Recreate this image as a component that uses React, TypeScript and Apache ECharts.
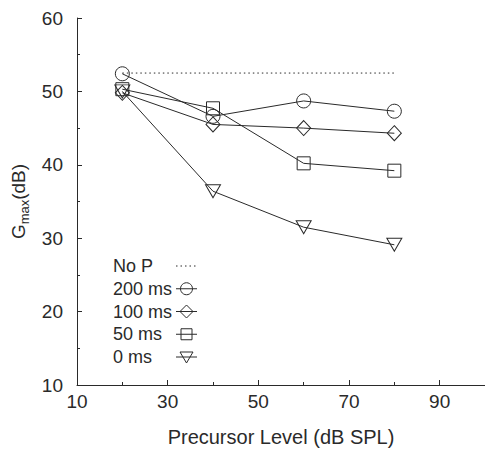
import React, { useEffect, useRef } from "react";
import * as echarts from "echarts";

const levels = [20, 40, 60, 80];
const noP = [52.5, 52.5];
const noPLevels = [20, 80];
const ms200 = [52.4, 46.6, 48.7, 47.3];
const ms100 = [49.8, 45.5, 45.0, 44.3];
const ms50 = [50.3, 47.7, 40.2, 39.2];
const ms0 = [50.0, 36.4, 31.5, 29.1];
const legendNames = ["No P", "200 ms", "100 ms", "50 ms", "0 ms"];

const FONT = "Liberation Sans, Arial, Helvetica, sans-serif";
const INK = "#2a2a2a";

export default function App() {
  const ref = useRef<HTMLDivElement>(null);
  useEffect(() => {
    if (!ref.current) return;
    const chart = echarts.init(ref.current, null, { renderer: "svg" });
    const mk = (name: string, ys: number[], symbol: string, size: any) => ({
      name,
      type: "line",
      data: levels.map((x, i) => [x, ys[i]]),
      symbol,
      symbolSize: size,
      showAllSymbol: true,
      lineStyle: { color: INK, width: 1 },
      itemStyle: { color: "rgba(0,0,0,0)", borderColor: INK, borderWidth: 1 },
      emphasis: { disabled: true },
      z: 3,
    });

    // legend drawn as graphic elements
    const lx = 113;
    const ly0 = 266;
    const dy = 22.75;
    const ix1 = 176;
    const ix2 = 197;
    const icx = 186.5;
    const stroke = { stroke: INK, lineWidth: 1, fill: "none" };
    const legend: any[] = [];
    legendNames.forEach((nm, i) => {
      const y = ly0 + i * dy;
      legend.push({
        type: "text",
        x: lx,
        y,
        style: { text: nm, fontSize: 18, fontFamily: FONT, fill: INK, verticalAlign: "middle", align: "left" },
      });
      legend.push({
        type: "line",
        shape: { x1: ix1, y1: y, x2: ix2, y2: y },
        style: i === 0 ? { stroke: INK, lineWidth: 1, lineDash: [1.5, 3] } : { stroke: INK, lineWidth: 1 },
      });
      if (i === 1) legend.push({ type: "circle", shape: { cx: icx, cy: y, r: 6 }, style: stroke });
      if (i === 2)
        legend.push({
          type: "polygon",
          shape: { points: [[icx, y - 6.5], [icx + 6.5, y], [icx, y + 6.5], [icx - 6.5, y]] },
          style: stroke,
        });
      if (i === 3) legend.push({ type: "rect", shape: { x: icx - 5.5, y: y - 5.5, width: 11, height: 11 }, style: stroke });
      if (i === 4)
        legend.push({
          type: "polygon",
          shape: { points: [[icx - 6.5, y - 5], [icx + 6.5, y - 5], [icx, y + 6]] },
          style: stroke,
        });
    });

    chart.setOption({
      animation: false,
      backgroundColor: "#fff",
      textStyle: { fontFamily: FONT },
      grid: { left: 77, top: 18, bottom: 64, right: -5, containLabel: false },
      graphic: legend,
      xAxis: {
        type: "value",
        min: 10,
        max: 100,
        interval: 20,
        name: "Precursor Level (dB SPL)",
        nameLocation: "middle",
        nameGap: 42,
        nameTextStyle: { fontSize: 20, color: INK, fontFamily: FONT },
        axisLine: { lineStyle: { color: INK, width: 1 } },
        axisTick: { inside: true, length: 5, lineStyle: { color: INK } },
        minorTick: { show: true, splitNumber: 2, length: 3, lineStyle: { color: INK } },
        axisLabel: { fontSize: 19, color: INK, margin: 7, showMaxLabel: false, fontFamily: FONT },
        splitLine: { show: false },
      },
      yAxis: {
        type: "value",
        min: 10,
        max: 60,
        interval: 10,
        name: "{a|G}{b|max}{a|(dB)}",
        nameLocation: "middle",
        nameGap: 44,
        nameRotate: 90,
        nameTextStyle: {
          rich: {
            a: { fontSize: 19, color: INK, fontFamily: FONT, lineHeight: 24 },
            b: { fontSize: 13, color: INK, fontFamily: FONT, lineHeight: 13, verticalAlign: "bottom" },
          },
        },
        axisLine: { show: true, lineStyle: { color: INK, width: 1 } },
        axisTick: { show: true, inside: true, length: 5, lineStyle: { color: INK } },
        minorTick: { show: true, splitNumber: 2, length: 3, lineStyle: { color: INK } },
        axisLabel: { fontSize: 19, color: INK, margin: 14, fontFamily: FONT },
        splitLine: { show: false },
      },
      series: [
        {
          name: "No P",
          type: "line",
          data: noPLevels.map((x, i) => [x, noP[i]]),
          symbol: "none",
          lineStyle: { color: INK, width: 1, type: [1.5, 3] },
          itemStyle: { color: INK },
          emphasis: { disabled: true },
        },
        mk("200 ms", ms200, "circle", 14),
        mk("100 ms", ms100, "diamond", [14, 15]),
        mk("50 ms", ms50, "rect", 13),
        mk("0 ms", ms0, "path://M0,0L10,0L5,8.66Z", [15, 13]),
      ],
    });
    return () => chart.dispose();
  }, []);
  return <div ref={ref} style={{ width: 485, height: 452, position: "absolute", left: 0, top: 0 }} />;
}
